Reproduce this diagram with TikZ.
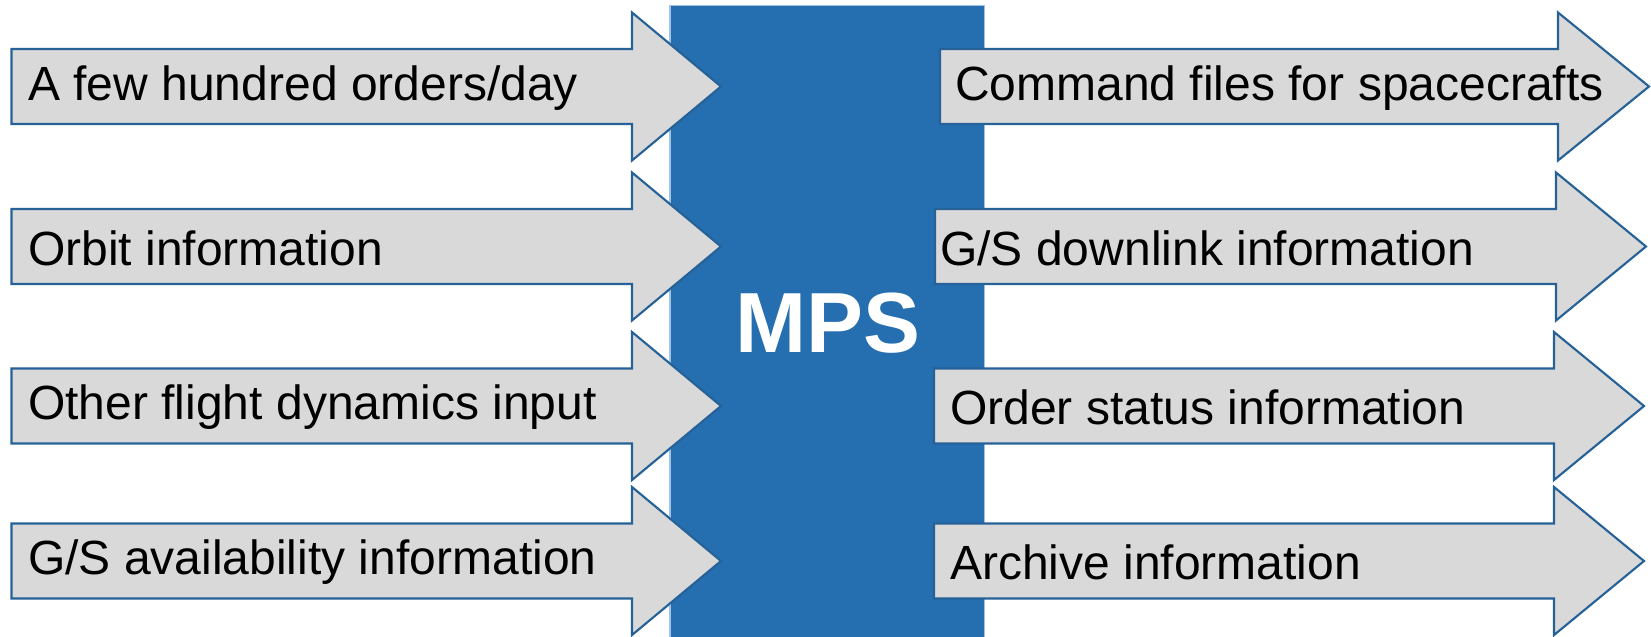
\documentclass[tikz,border=0pt]{standalone}
\usepackage{fontspec}
\setmainfont{Liberation Sans}
\usepackage{xcolor}
\usepackage{tikz}

\definecolor{mpsblue}{RGB}{37,110,176}
\definecolor{mpsedge}{RGB}{160,195,228}
\definecolor{flowfill}{RGB}{217,217,217}
\definecolor{flowline}{RGB}{38,98,152}

\tikzset{
  flow/.style={draw=flowline,fill=flowfill,line width=1.6pt,line join=miter},
  flowtext/.style={anchor=west,inner sep=0pt,font=\fontsize{36}{43}\selectfont},
}

\begin{document}
\begin{tikzpicture}[x=0.75pt,y=0.75pt,yscale=-1,xscale=1]

\useasboundingbox (0,0) rectangle (1651,636);

% MPS block
\draw [fill=mpsblue,draw=mpsedge,line width=1pt]  (670,5.5) -- (984.5,5.5) -- (984.5,640) -- (670,640) -- cycle ;

\node (mps) at (828,323) [text=white,font=\bfseries\fontsize{64}{70}\selectfont] {MPS};


% inputs
\draw [flow]  (11.5,49) -- (632,49) -- (632,12.5) -- (721,86.5) -- (632,160.5) -- (632,124) -- (11.5,124) -- cycle ;

\draw [flow]  (11.5,209) -- (632,209) -- (632,172.5) -- (721,246.5) -- (632,320.5) -- (632,284) -- (11.5,284) -- cycle ;

\draw [flow]  (11.5,368.5) -- (632,368.5) -- (632,332) -- (721,406) -- (632,480) -- (632,443.5) -- (11.5,443.5) -- cycle ;

\draw [flow]  (11.5,523.5) -- (632,523.5) -- (632,487) -- (721,561) -- (632,635) -- (632,598.5) -- (11.5,598.5) -- cycle ;


% outputs
\draw [flow]  (940,49) -- (1558,49) -- (1558,12.5) -- (1649,86.5) -- (1558,160.5) -- (1558,124) -- (940,124) -- cycle ;

\draw [flow]  (935,209) -- (1556,209) -- (1556,172.5) -- (1646,246.5) -- (1556,320.5) -- (1556,284) -- (935,284) -- cycle ;

\draw [flow]  (934,368.5) -- (1554,368.5) -- (1554,332) -- (1644,406) -- (1554,480) -- (1554,443.5) -- (934,443.5) -- cycle ;

\draw [flow]  (934,523.5) -- (1554,523.5) -- (1554,487) -- (1644,561) -- (1554,635) -- (1554,598.5) -- (934,598.5) -- cycle ;


\node (in1) at (28,88) [flowtext] {A few hundred orders/day};

\node (in2) at (28,248) [flowtext] {Orbit information};

\node (in3) at (28,407.5) [flowtext] {Other flight dynamics input};

\node (in4) at (28,562.5) [flowtext] {G/S availability information};

\node (out1) at (955,88) [flowtext] {Command files for spacecrafts};

\node (out2) at (940,248) [flowtext] {G/S downlink information};

\node (out3) at (950,407.5) [flowtext] {Order status information};

\node (out4) at (950,562.5) [flowtext] {Archive information};


\end{tikzpicture}
\end{document}
